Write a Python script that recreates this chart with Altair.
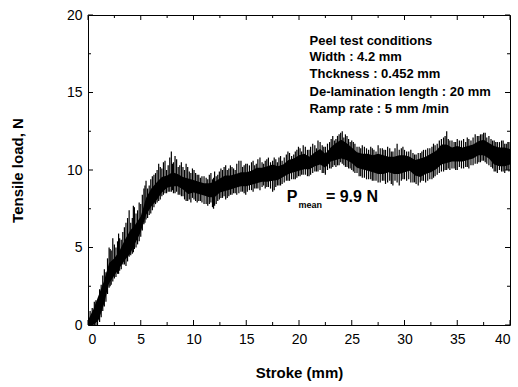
import altair as alt
import pandas as pd

# ---- data ----
stroke_grid = [i * 0.5 for i in range(81)]
band_upper = [0.3, 1.0, 1.9, 2.8, 4.0, 4.3, 4.8, 5.5, 6.1, 6.5,
              7.0, 8.2, 8.8, 9.2, 9.55, 9.65, 9.85, 9.75, 9.55, 9.45,
              9.35, 9.25, 9.15, 9.15, 9.25, 9.45, 9.65, 9.65, 9.75, 9.85,
              9.85, 9.95, 10.15, 10.15, 10.25, 10.35, 10.25, 10.35, 10.65, 10.75,
              10.95, 11.05, 10.85, 11.15, 11.35, 11.05, 11.45, 11.75, 11.95, 11.75,
              11.45, 11.15, 11.05, 11.05, 10.95, 11.05, 10.95, 10.85, 10.85, 10.95,
              10.95, 10.85, 10.65, 10.75, 10.85, 11.05, 11.25, 11.65, 11.65, 11.45,
              11.55, 11.45, 11.55, 11.65, 11.85, 11.95, 11.75, 11.55, 11.45, 11.45,
              11.35]
band_lower = [0.0, 0.0, 0.3, 1.3, 2.7, 3.2, 3.7, 4.2, 4.6, 5.3,
              6.0, 7.1, 7.65, 8.05, 8.55, 8.85, 8.95, 8.95, 8.75, 8.45,
              8.55, 8.45, 8.35, 8.25, 8.25, 8.55, 8.65, 8.75, 8.85, 8.95,
              8.95, 9.05, 9.15, 9.25, 9.25, 9.3, 9.35, 9.55, 9.75, 9.85,
              9.95, 10.05, 10.05, 10.25, 10.35, 10.15, 10.55, 10.65, 10.75, 10.65,
              10.45, 10.15, 10.05, 9.95, 9.85, 9.75, 9.75, 9.85, 9.75, 9.75,
              9.85, 9.95, 9.65, 9.55, 9.75, 9.85, 10.05, 10.35, 10.45, 10.55,
              10.55, 10.55, 10.65, 10.75, 10.95, 10.95, 10.75, 10.35, 10.25, 10.25,
              10.35]

spike_x = [0.2, 0.6, 0.9, 1.1, 1.4, 1.7, 2.0, 2.2, 2.5, 2.8, 3.0, 3.3, 3.6, 3.9,
           4.2, 4.4, 4.7, 5.0, 5.3, 5.5, 5.8, 6.1, 6.4, 6.7, 7.0, 7.3, 7.6, 7.9,
           8.1, 8.4, 8.7, 9.0, 9.3, 9.6, 9.9, 10.2, 10.5, 10.8, 11.2, 11.5, 11.8,
           12.0, 12.3, 12.6, 12.9, 13.2, 13.5, 13.8, 14.1, 14.5, 14.8, 15.1, 15.5,
           15.8, 16.1, 16.5, 16.8, 17.1, 17.5, 17.8, 18.1, 18.4, 18.8, 19.1, 19.5,
           19.8, 20.1, 20.4, 20.8, 21.1, 21.5, 21.8, 22.2, 22.5, 22.9, 23.2, 23.5,
           23.8, 24.1, 24.4, 24.7, 25.0, 25.3, 25.7, 26.0, 26.4, 26.8, 27.1, 27.5,
           27.9, 28.2, 28.6, 28.9, 29.3, 29.7, 30.0, 30.4, 30.8, 31.1, 31.5, 31.8,
           32.2, 32.6, 32.9, 33.3, 33.7, 34.0, 34.3, 34.7, 35.0, 35.4, 35.8, 36.1,
           36.5, 36.9, 37.2, 37.5, 37.8, 38.2, 38.5, 38.8, 39.2, 39.5, 39.8,
           0.4, 0.75, 1.25, 1.55, 1.85, 2.1, 2.35, 2.65, 2.9, 3.15, 3.45, 3.75,
           4.05, 4.3, 4.55, 4.85, 5.15, 5.4, 5.65, 5.95, 6.25, 6.55, 6.85, 7.15,
           7.45, 7.75, 8.0, 8.25, 8.55, 8.85, 9.15, 9.45, 9.75, 10.05, 10.35, 10.65,
           11.0, 11.35, 11.65, 11.9, 12.15, 12.45, 12.75, 13.05, 13.35, 13.65, 13.95,
           14.3, 14.65, 14.95, 15.3, 15.65, 15.95, 16.3, 16.65, 16.95, 17.3, 17.65,
           17.95, 18.25, 18.6, 18.95, 19.3, 19.65, 19.95, 20.25, 20.6, 20.95, 21.3,
           21.65, 22.0, 22.35, 22.7, 23.05, 23.35, 23.65, 23.95, 24.25, 24.55, 24.85,
           25.15, 25.5, 25.85, 26.2, 26.6, 26.95, 27.3, 27.7, 28.05, 28.4, 28.75,
           29.1, 29.5, 29.85, 30.2, 30.6, 30.95, 31.3, 31.65, 32.0, 32.4, 32.75,
           33.1, 33.5, 33.85, 34.15, 34.5, 34.85, 35.2, 35.6, 35.95, 36.3, 36.7,
           37.05, 37.35, 37.65, 38.0, 38.35, 38.65, 39.0, 39.35, 39.65, 39.9]
spike_lo = [0.0, 0.0, 0.0, 0.2, 0.9, 1.5, 2.4, 2.6, 3.0, 3.3, 3.5, 3.9, 3.8, 4.4,
            4.6, 4.9, 5.2, 5.7, 6.5, 6.8, 7.1, 7.4, 7.8, 8.0, 8.3, 8.5, 8.6, 8.6,
            8.5, 8.6, 8.4, 8.3, 8.0, 8.1, 8.2, 8.0, 8.0, 7.9, 7.8, 7.8, 7.6,
            7.7, 8.0, 8.2, 8.3, 8.2, 8.4, 8.5, 8.4, 8.6, 8.5, 8.6, 8.7,
            8.8, 8.8, 8.9, 8.8, 8.9, 8.6, 8.9, 9.0, 9.1, 9.3, 9.3, 9.4,
            9.5, 9.6, 9.7, 9.6, 9.7, 9.9, 9.9, 9.8, 9.7, 10.1, 10.2, 10.2,
            10.3, 10.4, 10.2, 10.1, 10.0, 9.8, 9.6, 9.5, 9.4, 9.4, 9.3, 9.2,
            9.3, 9.1, 9.3, 9.0, 9.2, 9.3, 9.4, 9.4, 9.2, 9.1, 9.2, 9.3,
            9.3, 9.4, 9.6, 9.8, 9.9, 10.0, 10.0, 10.1, 10.0, 10.1, 10.2, 10.1,
            10.3, 10.4, 10.5, 10.6, 10.4, 10.2, 9.9, 9.8, 9.9, 9.8, 10.0,
            0.0, 0.0, 0.5, 1.2, 2.0, 2.5, 2.8, 3.1, 3.3, 3.6, 3.9, 4.1,
            4.5, 4.7, 5.0, 5.4, 6.1, 6.6, 6.9, 7.2, 7.6, 7.9, 8.1, 8.4,
            8.5, 8.6, 8.7, 8.5, 8.4, 8.3, 8.1, 8.0, 7.9, 8.1, 7.9, 8.0,
            7.8, 7.7, 7.9, 7.5, 7.8, 8.1, 8.2, 8.1, 8.3, 8.4, 8.5,
            8.5, 8.6, 8.4, 8.7, 8.6, 8.8, 8.7, 9.0, 8.9, 8.8, 8.7,
            9.0, 9.0, 9.2, 9.3, 9.4, 9.4, 9.6, 9.7, 9.7, 9.6, 9.8,
            9.9, 10.0, 9.8, 10.0, 10.1, 10.3, 10.3, 10.5, 10.3, 10.2, 10.1,
            9.9, 9.8, 9.6, 9.5, 9.4, 9.3, 9.3, 9.2, 9.3, 9.2, 9.1,
            9.3, 9.0, 9.4, 9.3, 9.2, 9.2, 9.0, 9.3, 9.2, 9.4, 9.5,
            9.7, 9.9, 10.0, 10.1, 10.1, 10.0, 10.2, 10.1, 10.2, 10.3, 10.4,
            10.5, 10.6, 10.5, 10.3, 10.1, 9.9, 10.0, 9.9, 10.0, 9.9]
spike_hi = [0.9, 1.5, 1.2, 2.3, 3.2, 3.4, 5.0, 4.8, 5.2, 5.4, 5.6, 6.0, 6.6, 7.4,
            6.9, 7.6, 7.4, 7.8, 8.8, 9.3, 9.0, 9.6, 9.8, 10.4, 10.1, 10.6, 10.3, 11.2,
            10.5, 10.7, 10.3, 10.2, 10.4, 9.9, 10.1, 9.8, 9.7, 9.6, 9.5, 9.7, 9.4,
            9.9, 9.7, 10.1, 10.2, 10.0, 10.3, 10.1, 10.4, 10.6, 10.3, 10.4, 10.5,
            10.3, 10.7, 10.5, 10.6, 10.8, 10.6, 10.7, 10.8, 10.6, 11.0, 11.1, 11.0,
            11.3, 11.4, 11.6, 11.3, 11.5, 11.6, 11.9, 11.6, 11.5, 11.8, 12.2, 12.0,
            12.3, 12.5, 12.3, 12.0, 11.9, 11.7, 11.5, 11.6, 11.4, 11.5, 11.3, 11.6,
            11.4, 11.3, 11.4, 11.2, 11.7, 11.4, 11.3, 11.2, 11.1, 11.0, 11.1, 11.3,
            11.4, 11.5, 11.6, 11.9, 12.1, 12.5, 11.9, 11.8, 12.0, 11.9, 11.8, 12.0,
            12.1, 12.2, 12.3, 12.4, 12.1, 12.0, 11.9, 11.8, 11.9, 11.7, 11.8,
            1.1, 1.6, 2.6, 3.6, 4.3, 4.9, 5.6, 5.0, 5.9, 5.5, 6.3, 6.9,
            6.6, 7.7, 7.2, 7.9, 8.4, 9.0, 8.8, 9.4, 9.7, 10.0, 10.2, 10.5,
            10.0, 10.8, 10.4, 10.9, 10.2, 10.5, 10.0, 10.2, 9.8, 10.0, 9.7, 9.5,
            9.6, 9.4, 9.8, 9.5, 9.6, 9.9, 10.0, 10.3, 10.1, 10.2, 10.0,
            10.6, 10.2, 10.4, 10.3, 10.6, 10.4, 10.8, 10.4, 10.7, 10.5, 10.8,
            10.5, 10.9, 10.8, 11.2, 10.9, 11.2, 11.5, 11.2, 11.5, 11.3, 11.7,
            11.4, 11.8, 11.5, 11.7, 12.0, 11.9, 12.2, 12.4, 12.1, 12.2, 11.8,
            11.8, 11.5, 11.4, 11.5, 11.3, 11.4, 11.2, 11.4, 11.3, 11.5, 11.2,
            11.4, 11.3, 11.5, 11.2, 11.3, 11.0, 11.1, 11.2, 11.3, 11.4, 11.7,
            11.7, 12.0, 12.2, 12.0, 11.9, 11.8, 11.9, 12.0, 12.1, 11.9, 12.3,
            12.2, 12.3, 12.4, 12.2, 11.9, 11.8, 11.8, 11.9, 11.7, 11.8]

x_major = [0, 5, 10, 15, 20, 25, 30, 35, 40]
x_minor = [2.5, 7.5, 12.5, 17.5, 22.5, 27.5, 32.5, 37.5]
y_major = [0, 5, 10, 15, 20]
y_minor = [2.5, 7.5, 12.5, 17.5]

info_lines = ["Peel test conditions", "Width : 4.2 mm", "Thckness : 0.452 mm",
              "De-lamination length : 20 mm", "Ramp rate : 5 mm /min"]
info_y = [18.34, 17.26, 16.18, 15.06, 13.95]
info_x = 21.0

W, H = 422, 310
FONT = "Liberation Sans"

xs = alt.Scale(domain=[0, 40], nice=False, zero=False)
ys = alt.Scale(domain=[0, 20], nice=False, zero=False)

ax_x = alt.Axis(
    title="Stroke (mm)", values=x_major, ticks=False, domain=False, grid=False,
    labelFontSize=14, labelFont=FONT, labelColor="black", labelPadding=7,
    titleFont=FONT, titleFontSize=15, titleFontWeight="bold", titleColor="black",
    titlePadding=19)
ax_y = alt.Axis(
    title="Tensile load, N", values=y_major, ticks=False, domain=False, grid=False,
    labelFontSize=14, labelFont=FONT, labelColor="black", labelPadding=6,
    titleFont=FONT, titleFontSize=15, titleFontWeight="bold", titleColor="black",
    titlePadding=41)

band_df = pd.DataFrame({"s": stroke_grid, "hi": band_upper, "lo": band_lower})
spike_df = pd.DataFrame({"s": spike_x, "lo": spike_lo, "hi": spike_hi})

band = alt.Chart(band_df).mark_area(color="black", opacity=1).encode(
    x=alt.X("s:Q", scale=xs, axis=ax_x),
    y=alt.Y("hi:Q", scale=ys, axis=ax_y),
    y2="lo:Q",
)

spikes = alt.Chart(spike_df).mark_rule(color="black", strokeWidth=1.2).encode(
    x=alt.X("s:Q", scale=xs, axis=ax_x),
    y=alt.Y("lo:Q", scale=ys, axis=ax_y),
    y2="hi:Q",
)

def xticks(vals, length):
    d = pd.DataFrame({"v": vals})
    b = alt.Chart(d).mark_rule(color="black", strokeWidth=1).encode(
        x=alt.X("v:Q", scale=xs, axis=ax_x), y=alt.value(H), y2=alt.value(H - length))
    t = alt.Chart(d).mark_rule(color="black", strokeWidth=1).encode(
        x=alt.X("v:Q", scale=xs, axis=ax_x), y=alt.value(0), y2=alt.value(length))
    return b + t

def yticks(vals, length):
    d = pd.DataFrame({"v": vals})
    l = alt.Chart(d).mark_rule(color="black", strokeWidth=1).encode(
        y=alt.Y("v:Q", scale=ys, axis=ax_y), x=alt.value(0), x2=alt.value(length))
    r = alt.Chart(d).mark_rule(color="black", strokeWidth=1).encode(
        y=alt.Y("v:Q", scale=ys, axis=ax_y), x=alt.value(W), x2=alt.value(W - length))
    return l + r

info_df = pd.DataFrame({"t": info_lines, "y": info_y, "x": [info_x] * len(info_lines)})
info = alt.Chart(info_df).mark_text(
    align="left", baseline="middle", font=FONT, fontSize=13, fontWeight="bold", color="black"
).encode(x=alt.X("x:Q", scale=xs, axis=ax_x), y=alt.Y("y:Q", scale=ys, axis=ax_y), text="t:N")

pm_df = pd.DataFrame({"t": ["P", "= 9.9 N"], "x": [18.85, 22.55], "y": [7.95, 7.95]})
pm = alt.Chart(pm_df).mark_text(
    align="left", baseline="alphabetic", font=FONT, fontSize=16, fontWeight="bold", color="black"
).encode(x=alt.X("x:Q", scale=xs, axis=ax_x), y=alt.Y("y:Q", scale=ys, axis=ax_y), text="t:N")
sub_df = pd.DataFrame({"t": ["mean"], "x": [19.95], "y": [7.55]})
sub = alt.Chart(sub_df).mark_text(
    align="left", baseline="alphabetic", font=FONT, fontSize=9, fontWeight="bold", color="black"
).encode(x=alt.X("x:Q", scale=xs, axis=ax_x), y=alt.Y("y:Q", scale=ys, axis=ax_y), text="t:N")

chart = alt.layer(
    band, spikes,
    xticks(x_major, 5), xticks(x_minor, 3),
    yticks(y_major, 5), yticks(y_minor, 3),
    info, pm, sub,
).properties(
    width=W, height=H,
    autosize=alt.AutoSizeParams(type="none"),
    padding={"left": 88, "top": 15, "right": 8, "bottom": 62},
    background="white",
).configure_view(stroke="black", strokeWidth=1)

chart.save("out.html", embed_options={"renderer": "svg", "actions": False})
